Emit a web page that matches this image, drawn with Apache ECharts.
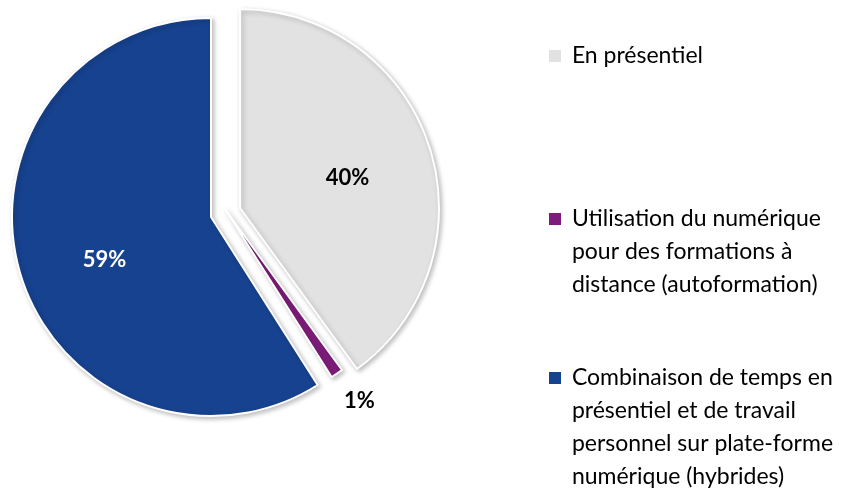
<!DOCTYPE html>
<html>
<head>
<meta charset="utf-8">
<script src="https://cdn.jsdelivr.net/npm/echarts@6/dist/echarts.min.js"></script>
<style>
  html, body { margin: 0; padding: 0; background: #fff; }
  #main { width: 858px; height: 489px; }
</style>
</head>
<body>
<div id="main"></div>
<script>
// data
var categories = [
  'En présentiel',
  'Utilisation du numérique pour des formations à distance (autoformation)',
  'Combinaison de temps en présentiel et de travail personnel sur plate-forme numérique (hybrides)'
];
var values = [40, 1, 59];
var legendLines = [
  ['En présentiel'],
  ['Utilisation du numérique', 'pour des formations à', 'distance (autoformation)'],
  ['Combinaison de temps en', 'présentiel et de travail', 'personnel sur plate-forme', 'numérique (hybrides)']
];
var colors = ['#E2E2E2', '#7E1C7B', '#17428F'];

var FONT = 'Lato';
var LH = 33;
var iconCenters = [56, 219, 378];

// each slice is pulled out of the pie on its own centre (exploded look)
var centers = [[240, 208], [225, 209], [211, 217]];
var labelOpts = [
  { position: 'inside', offset: [10, 2], color: '#000' },
  { position: 'outside', offset: [1, 26], color: '#000' },
  { position: 'inside', offset: [-8, 14], color: '#fff' }
];

var chart = echarts.init(document.getElementById('main'), null, { renderer: 'canvas' });

var legends = categories.map(function (name, i) {
  var n = legendLines[i].length;
  return {
    orient: 'vertical',
    left: 549,
    top: iconCenters[i] - (2 * n - 1) * LH / 2,
    padding: 0,
    icon: 'rect',
    itemWidth: 12,
    itemHeight: 12,
    itemGap: 0,
    selectedMode: false,
    data: [{ name: name, itemStyle: { color: colors[i], borderWidth: 0, shadowBlur: 0 } }],
    formatter: function () {
      var pre = '';
      for (var k = 0; k < n - 1; k++) pre += '\n';
      return pre + legendLines[i].map(function (s) { return ' ' + s; }).join('\n');
    },
    textStyle: {
      fontFamily: FONT,
      fontSize: 23,
      color: '#000',
      lineHeight: LH
    }
  };
});

function makeSeries(idx) {
  return {
    type: 'pie',
    center: centers[idx],
    radius: 199,
    startAngle: 90,
    clockwise: true,
    avoidLabelOverlap: false,
    animation: false,
    silent: true,
    label: {
      formatter: '{c}%',
      fontFamily: FONT,
      fontWeight: 'bold',
      fontSize: 22
    },
    labelLine: { show: false, length: 2, length2: 0 },
    emphasis: { disabled: true },
    data: categories.map(function (name, i) {
      if (i !== idx) {
        return {
          name: name, value: values[i],
          itemStyle: { color: 'rgba(0,0,0,0)', borderWidth: 0, shadowBlur: 0, shadowColor: 'rgba(0,0,0,0)' },
          label: { show: false }
        };
      }
      return {
        name: name, value: values[i],
        itemStyle: {
          color: colors[i],
          borderColor: '#fff',
          borderWidth: 2,
          shadowBlur: 5,
          shadowOffsetX: 2,
          shadowOffsetY: 2,
          shadowColor: 'rgba(0,0,0,0.25)'
        },
        label: labelOpts[i]
      };
    })
  };
}

var option = {
  legend: legends,
  series: [makeSeries(2), makeSeries(1), makeSeries(0)]
};

chart.setOption(option);
</script>
</body>
</html>
